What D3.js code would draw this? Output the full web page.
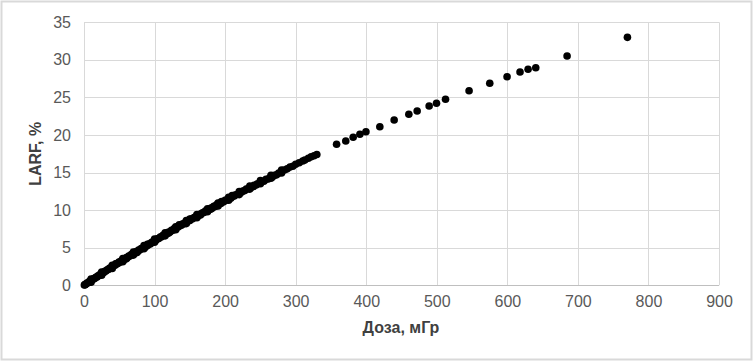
<!DOCTYPE html>
<html>
<head>
<meta charset="utf-8">
<script src="https://cdn.jsdelivr.net/npm/d3@7"></script>
<style>
  html, body { margin: 0; padding: 0; background: #fff; }
  svg { display: block; }
</style>
</head>
<body>
<svg id="chart" width="756" height="362"></svg>
<script>
// ---- data ----
const dose = [
  0.5, 1.2, 2, 3, 4, 5.5, 7, 8, 9.5, 11, 12.5, 14, 15, 17, 18.5, 20, 21.5, 23, 25, 26, 28, 29.5,
  31, 33, 34.5, 36, 38, 39.5, 41, 43, 44.5, 45, 46, 48, 49.5, 51, 53, 55, 56.5, 58, 60, 60, 62, 63.5,
  65, 67, 69, 70.5, 72, 74, 75, 76, 77.5, 79, 81, 83, 85, 87, 88.5, 90, 90, 92, 94, 96, 98,
  100, 102, 104, 106, 108, 110, 112, 114, 116, 118, 120, 120, 122, 124, 126, 128, 130, 132, 134,
  135, 136, 138, 140, 142, 144, 146, 148, 150, 150, 152, 154, 156, 158, 160, 162, 164, 165, 166,
  168, 170, 172, 174, 176, 178, 180, 180, 182, 184, 186, 188, 190, 192, 194, 195, 196, 198,
  200, 203, 205, 208, 210, 210, 213, 215, 218, 220, 223, 225, 228, 230, 233, 235, 238, 240, 241,
  244, 246, 249, 252, 255, 258, 261, 264, 267, 270, 273, 276, 280, 284, 288, 292, 296, 300,
  305, 310, 313, 318, 322, 326, 330,
  10, 10, 25, 25, 40, 40, 55, 55, 70, 70, 85, 85, 100, 100, 115, 115, 130, 130, 145, 145,
  160, 160, 175, 175, 190, 190, 205, 205, 220, 220, 235, 235, 250, 250, 265, 265, 280, 280,
  358, 371, 381.5, 391, 399.6, 419.3, 439.6, 460.4, 472.2, 489.2, 499.6, 512.4, 545.8, 575.1,
  599.6, 618, 629.4, 640.3, 684.7, 770.2
];
const larf = [
  0.03, 0.08, 0.11, 0.2, 0.24, 0.36, 0.42, 0.52, 0.57, 0.7, 0.76, 0.9, 0.92, 1.08, 1.12, 1.28, 1.3, 1.45, 1.52, 1.66, 1.7, 1.86,
  1.9, 2.07, 2.1, 2.26, 2.3, 2.46, 2.5, 2.67, 2.7, 2.85, 2.86, 2.9, 3.1, 3.08, 3.27, 3.32, 3.48, 3.5, 3.68, 3.52, 3.72, 3.9,
  3.9, 4.08, 4.12, 4.3, 4.3, 4.5, 4.35, 4.5, 4.7, 4.7, 4.9, 4.9, 5.1, 5.1, 5.3, 5.3, 5.45, 5.5, 5.5, 5.72, 5.78,
  6.0, 5.98, 6.2, 6.22, 6.42, 6.45, 6.64, 6.68, 6.85, 6.9, 7.1, 6.95, 7.1, 7.32, 7.34, 7.54, 7.55, 7.75, 7.78,
  8.05, 7.95, 8.0, 8.18, 8.2, 8.4, 8.42, 8.6, 8.62, 8.8, 8.82, 8.85, 9.02, 9.05, 9.25, 9.26, 9.45, 9.35, 9.48,
  9.66, 9.68, 9.88, 9.88, 10.08, 10.1, 10.28, 10.15, 10.3, 10.5, 10.5, 10.7, 10.72, 10.9, 10.9, 11.15, 11.1, 11.12,
  11.3, 11.4, 11.56, 11.6, 11.8, 11.95, 11.9, 12.05, 12.12, 12.3, 12.38, 12.55, 12.6, 12.8, 12.86, 13.02, 13.08, 13.15, 13.3,
  13.35, 13.52, 13.6, 13.8, 13.85, 14.1, 14.15, 14.35, 14.42, 14.65, 14.7, 14.95, 15.1, 15.35, 15.5, 15.75, 15.85, 16.1,
  16.3, 16.55, 16.68, 16.9, 17.1, 17.25, 17.4,
  0.82, 0.42, 1.75, 1.35, 2.65, 2.25, 3.55, 3.15, 4.42, 4.02, 5.28, 4.88, 6.14, 5.74, 6.98, 6.58, 7.8, 7.4, 8.61, 8.21,
  9.4, 9.0, 10.18, 9.78, 10.96, 10.56, 11.72, 11.32, 12.47, 12.07, 13.2, 12.8, 13.93, 13.53, 14.65, 14.25, 15.35, 14.95,
  18.77, 19.2, 19.7, 20.1, 20.44, 21.1, 22.0, 22.76, 23.2, 23.86, 24.22, 24.75, 25.9, 26.88,
  27.76, 28.39, 28.75, 28.96, 30.52, 33.0
];
const xTicks = [0, 100, 200, 300, 400, 500, 600, 700, 800, 900];
const yTicks = [0, 5, 10, 15, 20, 25, 30, 35];
const xTitle = "Доза, мГр";
const yTitle = "LARF, %";

// ---- drawing ----
const svg = d3.select("#chart");
const plot = { left: 84, right: 719, top: 22.3, bottom: 285.3 };

svg.append("rect")
  .attr("x", 1.5).attr("y", 1.5)
  .attr("width", 750).attr("height", 358)
  .attr("fill", "#fff")
  .attr("stroke", "#d9d9d9")
  .attr("stroke-width", 2);

const x = d3.scaleLinear().domain([0, 900]).range([plot.left, plot.right]);
const y = d3.scaleLinear().domain([0, 35]).range([plot.bottom, plot.top]);

const font = "'Liberation Sans', Arial, sans-serif";

// vertical gridlines
svg.append("g")
  .selectAll("line")
  .data(xTicks)
  .join("line")
  .attr("x1", d => Math.round(x(d)) + 0.5)
  .attr("x2", d => Math.round(x(d)) + 0.5)
  .attr("y1", plot.top)
  .attr("y2", plot.bottom)
  .attr("stroke", "#d9d9d9")
  .attr("stroke-width", 1);

// horizontal gridlines
svg.append("g")
  .selectAll("line")
  .data(yTicks.filter(d => d !== 0))
  .join("line")
  .attr("x1", plot.left)
  .attr("x2", plot.right)
  .attr("y1", d => Math.round(y(d)) + 0.5)
  .attr("y2", d => Math.round(y(d)) + 0.5)
  .attr("stroke", "#d9d9d9")
  .attr("stroke-width", 1);

// x axis line
svg.append("line")
  .attr("x1", plot.left).attr("x2", plot.right)
  .attr("y1", Math.round(y(0)) + 0.5).attr("y2", Math.round(y(0)) + 0.5)
  .attr("stroke", "#bfbfbf").attr("stroke-width", 1);

// x tick labels
const xAxis = d3.axisBottom(x).tickValues(xTicks).tickSize(0).tickPadding(0).tickFormat(d3.format("d"));
const gx = svg.append("g").attr("transform", `translate(0,${plot.bottom + 10})`).call(xAxis);
gx.select(".domain").remove();
gx.selectAll("text")
  .attr("dy", "0.71em")
  .attr("fill", "#595959")
  .style("font-family", font)
  .style("font-size", "16px");

// y tick labels
const yAxis = d3.axisLeft(y).tickValues(yTicks).tickSize(0).tickPadding(0).tickFormat(d3.format("d"));
const gy = svg.append("g").attr("transform", `translate(${plot.left - 13},0)`).call(yAxis);
gy.select(".domain").remove();
gy.selectAll("text")
  .attr("fill", "#595959")
  .style("font-family", font)
  .style("font-size", "16px");

// points
svg.append("g")
  .selectAll("circle")
  .data(dose.map((d, i) => [d, larf[i]]))
  .join("circle")
  .attr("cx", d => x(d[0]))
  .attr("cy", d => y(d[1]))
  .attr("r", 3.8)
  .attr("fill", "#000");

// axis titles
svg.append("text")
  .attr("x", (plot.left + plot.right) / 2 - 0.5)
  .attr("y", 333)
  .attr("text-anchor", "middle")
  .attr("fill", "#404040")
  .style("font-family", font)
  .style("font-weight", "bold")
  .style("font-size", "16px")
  .text(xTitle);

svg.append("text")
  .attr("transform", `translate(41,${(plot.top + plot.bottom) / 2}) rotate(-90)`)
  .attr("text-anchor", "middle")
  .attr("fill", "#404040")
  .style("font-family", font)
  .style("font-weight", "bold")
  .style("font-size", "16px")
  .text(yTitle);
</script>
</body>
</html>
